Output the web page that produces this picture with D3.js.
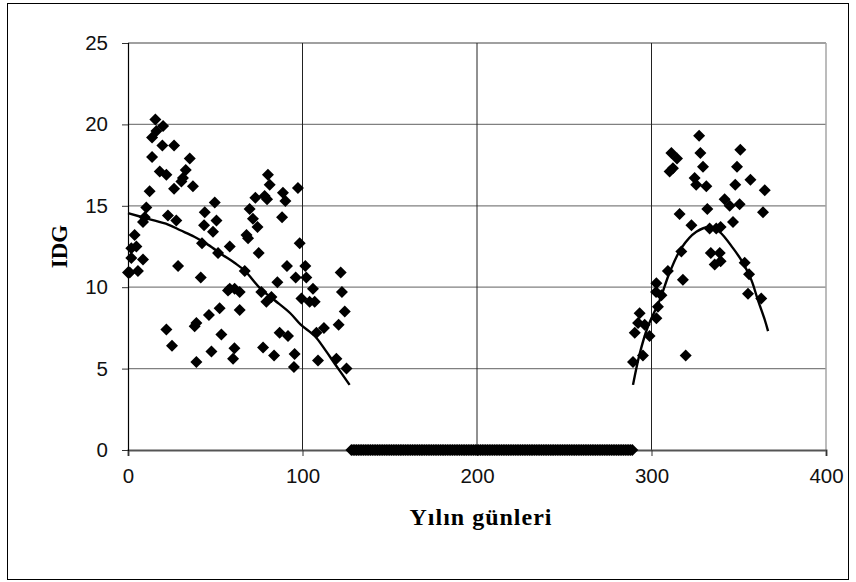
<!DOCTYPE html>
<html>
<head>
<meta charset="utf-8">
<script src="https://cdn.jsdelivr.net/npm/d3@7"></script>
<style>
  body { margin: 0; background: #fff; }
  svg { display: block; }
</style>
</head>
<body>
<div id="chart"></div>
<script>

// spring/summer observations (day of year, IDG)
var springDays = [0, 1, 1.9, 1.9, 3.8, 4.8, 5.7, 8.6, 8.6, 9.6, 10.5, 12.4, 13.8, 13.8, 15.7, 16.3, 18.2, 19.7, 20.1, 22,
  22.9, 26.4, 26.4, 27.7, 28.7, 30.6, 31.5, 33.1, 35.4, 37.2, 22, 25.2, 38.2, 39.2, 39.2, 41.7, 42.4, 43.6, 44, 46.4,
  47.8, 48.7, 49.7, 50.7, 51.6, 52.5, 53.5, 57.3, 58.3, 58.3, 60.2, 61, 61.1, 64, 64, 66.9, 67.9, 68.8, 69.7, 71.6,
  73, 74.2, 74.9, 76.4, 77.4, 78.3, 79.3, 79.7, 80.2, 81.2, 82.2, 83.7, 85.6, 86.9, 88.3, 88.8, 90.2, 91.1, 91.7, 95.1,
  95.5, 96.1, 97.4, 98.4, 99.4, 101.6, 102.2, 104.1, 106, 107, 108, 108.9, 112.3, 119.4, 120.7, 121.9, 122.6, 124.2, 125.2];
var springIdg = [10.9, 10.9, 11.8, 12.4, 13.2, 12.5, 11.0, 11.7, 14.0, 14.3, 14.9, 15.9, 18.0, 19.2, 20.3, 19.6, 17.1, 18.7, 19.9, 16.9,
  14.4, 18.7, 16.05, 14.1, 11.3, 16.5, 16.7, 17.2, 17.9, 16.2, 7.4, 6.4, 7.6, 7.8, 5.4, 10.6, 12.7, 13.8, 14.6, 8.3,
  6.05, 13.4, 15.2, 14.1, 12.1, 8.7, 7.1, 9.8, 12.5, 9.9, 5.6, 6.25, 9.9, 8.6, 9.7, 11.0, 13.2, 13.0, 14.8, 14.2,
  15.5, 13.7, 12.1, 9.7, 6.3, 15.6, 9.1, 15.4, 16.9, 16.3, 9.4, 5.8, 10.3, 7.2, 14.3, 15.8, 15.3, 11.3, 7.0, 5.1,
  5.9, 10.6, 16.1, 12.7, 9.3, 11.3, 10.6, 9.1, 9.9, 9.1, 7.2, 5.5, 7.5, 5.6, 7.7, 10.9, 9.7, 8.5, 5.0];

// autumn observations
var autumnDays = [289.4, 290.4, 292.3, 293.2, 295.1, 296.1, 298.9, 302.6, 302.8, 302.8, 303.7, 305.7, 309.4, 310.4, 311.4, 312.3, 314.6, 316.1, 317.1, 318,
  319.6, 322.9, 324.7, 325.6, 327.3, 328, 329.5, 331.4, 332, 334, 333.3, 336.2, 337.1, 339.1, 339.6, 339.6, 341.9, 344.8, 346.7, 348,
  349, 350.5, 350.9, 353.4, 355.3, 355.9, 356.7, 362.9, 363.9, 364.9];
var autumnIdg = [5.4, 7.2, 7.8, 8.4, 5.8, 7.7, 7.0, 9.7, 8.1, 10.25, 8.8, 9.5, 11.0, 17.1, 18.25, 17.3, 17.9, 14.5, 12.2, 10.45,
  5.8, 13.8, 16.7, 16.3, 19.3, 18.25, 17.4, 16.2, 14.8, 12.1, 13.6, 11.4, 13.6, 12.1, 13.7, 11.6, 15.4, 15.0, 14.0, 16.3,
  17.4, 15.1, 18.45, 11.5, 9.6, 10.8, 16.6, 9.3, 14.6, 15.95];

// winter days with IDG = 0
var zeroFirstDay = 128;
var zeroLastDay = 289;

// trend curves
var springTrendDays = [0, 11.5, 23, 30, 38, 46, 54, 61, 67, 76, 84, 93, 99, 107, 113, 118.5, 127];
var springTrendIdg = [14.55, 14.2, 13.85, 13.5, 13.1, 12.6, 12.0, 11.5, 11.0, 9.9, 9.2, 8.4, 7.7, 7.0, 6.15, 5.3, 4.0];
var autumnTrendDays = [289.4, 293.2, 298, 304.7, 310.4, 317.1, 325.7, 333.4, 339, 346.7, 352.4, 357.2, 361, 364.9, 366.8];
var autumnTrendIdg = [4.0, 5.9, 7.6, 9.2, 10.9, 12.4, 13.4, 13.7, 13.4, 12.4, 11.5, 10.45, 9.2, 8.0, 7.3];

var xTicks = [0, 100, 200, 300, 400];
var yTicks = [0, 5, 10, 15, 20, 25];

// #### layout ####
var width = 856, height = 582;
var plot = {left: 128, right: 826, top: 43, bottom: 450};

var svg = d3.select("#chart").append("svg")
  .attr("width", width)
  .attr("height", height);

svg.append("rect")
  .attr("x", 7.5).attr("y", 3.5)
  .attr("width", 841).attr("height", 576)
  .attr("fill", "#fff")
  .attr("stroke", "#000")
  .attr("stroke-width", 1);

var x = d3.scaleLinear().domain([0, 400]).range([plot.left, plot.right]);
var y = d3.scaleLinear().domain([0, 25]).range([plot.bottom, plot.top]);

// grid
svg.append("g").selectAll("line")
  .data(yTicks.filter(function(d) { return d > 0; }))
  .enter().append("line")
  .attr("x1", plot.left).attr("x2", plot.right)
  .attr("y1", function(d) { return y(d); })
  .attr("y2", function(d) { return y(d); })
  .attr("stroke", "#808080")
  .attr("stroke-width", 1.3);

svg.append("g").selectAll("line")
  .data(xTicks.filter(function(d) { return d > 0 && d < 400; }))
  .enter().append("line")
  .attr("x1", function(d) { return x(d); })
  .attr("x2", function(d) { return x(d); })
  .attr("y1", plot.top).attr("y2", plot.bottom)
  .attr("stroke", "#222")
  .attr("stroke-width", 1);

// plot area right border
svg.append("line")
  .attr("x1", plot.right).attr("x2", plot.right)
  .attr("y1", plot.top).attr("y2", plot.bottom)
  .attr("stroke", "#a6a6a6")
  .attr("stroke-width", 1.5);

// axes
var xAxis = d3.axisBottom(x).tickValues(xTicks).tickSize(6).tickPadding(12);
var yAxis = d3.axisLeft(y).tickValues(yTicks).tickSize(6).tickPadding(14);

var gx = svg.append("g")
  .attr("transform", "translate(0," + plot.bottom + ")")
  .call(xAxis);
gx.select(".domain").attr("stroke", "#555").attr("stroke-width", 2);

var gy = svg.append("g")
  .attr("transform", "translate(" + plot.left + ",0)")
  .call(yAxis);
gy.select(".domain").attr("stroke", "#000").attr("stroke-width", 1.2);

[gx, gy].forEach(function(g) {
  g.attr("font-family", "'Liberation Sans', Arial, sans-serif")
    .attr("font-size", 20.5);
  g.selectAll("text").attr("fill", "#111");
  g.selectAll(".tick line").attr("stroke", "#333");
});

// markers
function diamond(r) {
  return "M0," + (-r) + "L" + r + ",0L0," + r + "L" + (-r) + ",0Z";
}

var points = [];
springDays.forEach(function(d, i) { points.push([d, springIdg[i]]); });
autumnDays.forEach(function(d, i) { points.push([d, autumnIdg[i]]); });
d3.range(zeroFirstDay, zeroLastDay + 1).forEach(function(d) { points.push([d, 0]); });

svg.append("g").selectAll("path")
  .data(points)
  .enter().append("path")
  .attr("d", diamond(6))
  .attr("transform", function(d) { return "translate(" + x(d[0]) + "," + y(d[1]) + ")"; })
  .attr("fill", "#000");

// trend lines
var line = d3.line()
  .x(function(d) { return x(d[0]); })
  .y(function(d) { return y(d[1]); })
  .curve(d3.curveCatmullRom);

var trends = [
  springTrendDays.map(function(d, i) { return [d, springTrendIdg[i]]; }),
  autumnTrendDays.map(function(d, i) { return [d, autumnTrendIdg[i]]; })
];

svg.append("g").selectAll("path")
  .data(trends)
  .enter().append("path")
  .attr("d", line)
  .attr("fill", "none")
  .attr("stroke", "#000")
  .attr("stroke-width", 2.4);

// titles
svg.append("text")
  .attr("x", 481)
  .attr("y", 525)
  .attr("text-anchor", "middle")
  .attr("font-family", "'Liberation Serif', 'Times New Roman', serif")
  .attr("font-weight", "bold")
  .attr("font-size", 24)
  .attr("letter-spacing", 1)
  .text("Yılın günleri");

svg.append("text")
  .attr("transform", "translate(67," + ((plot.top + plot.bottom) / 2) + ") rotate(-90)")
  .attr("text-anchor", "middle")
  .attr("font-family", "'Liberation Serif', 'Times New Roman', serif")
  .attr("font-weight", "bold")
  .attr("font-size", 23)
  .text("IDG");

</script>
</body>
</html>
